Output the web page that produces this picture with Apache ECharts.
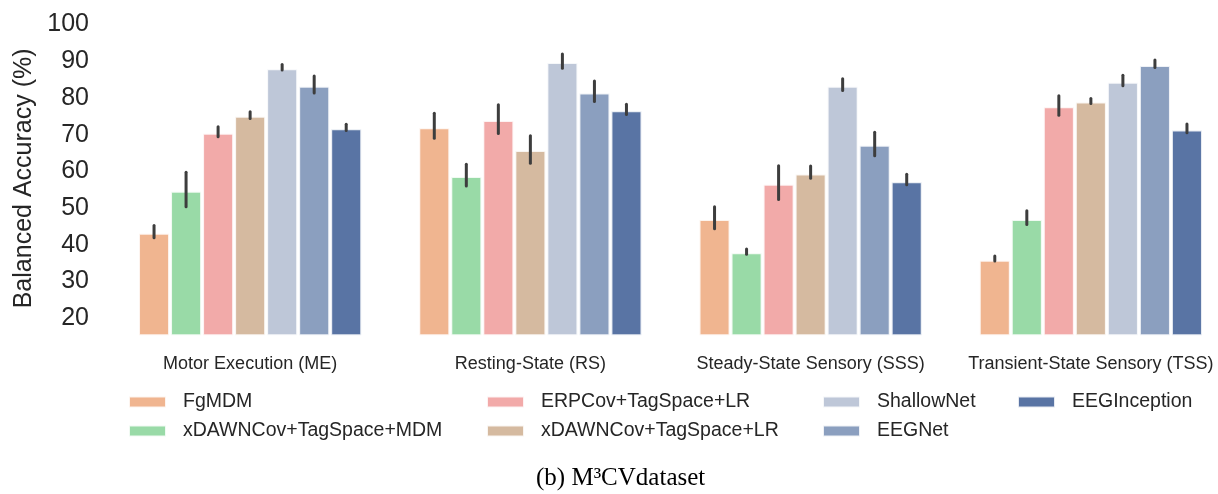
<!DOCTYPE html>
<html>
<head>
<meta charset="utf-8">
<script src="https://cdn.jsdelivr.net/npm/echarts@6/dist/echarts.min.js"></script>
<style>
  html, body { margin: 0; padding: 0; background: #ffffff; overflow: hidden; }
  #chart { width: 1240px; height: 494px; }
</style>
</head>
<body>
<div id="chart"></div>
<script>
const categories = ['Motor Execution (ME)', 'Resting-State (RS)', 'Steady-State Sensory (SSS)', 'Transient-State Sensory (TSS)'];
const methods = ['FgMDM', 'xDAWNCov+TagSpace+MDM', 'ERPCov+TagSpace+LR', 'xDAWNCov+TagSpace+LR', 'ShallowNet', 'EEGNet', 'EEGInception'];
const colors = ['#F0B590', '#99DAA7', '#F2AAA9', '#D5BAA0', '#BEC7D8', '#8B9FBF', '#5974A4'];
const yTicks = [20, 30, 40, 50, 60, 70, 80, 90, 100];

// mean balanced accuracy per method (ME, RS, SSS, TSS)
const fgmdmMean   = [42.4, 71.2, 46.2, 35.1];
const xdMdmMean   = [53.9, 57.9, 37.1, 46.2];
const erpLrMean   = [69.7, 73.2, 55.8, 76.9];
const xdLrMean    = [74.3, 65.0, 58.6, 78.2];
const shallowMean = [87.3, 89.0, 82.5, 83.6];
const eegnetMean  = [82.5, 80.7, 66.4, 88.2];
const inceptMean  = [70.9, 75.8, 56.5, 70.6];

// error bar lower ends
const fgmdmLo   = [41.1, 68.2, 43.5, 34.7];
const xdMdmLo   = [49.5, 55.2, 36.6, 44.7];
const erpLrLo   = [68.6, 69.5, 51.5, 74.5];
const xdLrLo    = [73.6, 61.4, 57.3, 77.7];
const shallowLo = [86.8, 87.3, 81.2, 82.5];
const eegnetLo  = [80.5, 78.2, 63.4, 87.5];
const inceptLo  = [70.3, 74.7, 55.5, 69.7];

// error bar upper ends
const fgmdmHi   = [44.4, 75.0, 49.5, 36.1];
const xdMdmHi   = [58.9, 61.1, 38.0, 48.4];
const erpLrHi   = [71.3, 77.3, 60.7, 79.8];
const xdLrHi    = [75.4, 68.9, 60.6, 79.0];
const shallowHi = [88.3, 91.2, 84.4, 85.4];
const eegnetHi  = [85.2, 83.8, 69.8, 89.5];
const inceptHi  = [72.0, 77.5, 58.4, 72.1];

const means = [fgmdmMean, xdMdmMean, erpLrMean, xdLrMean, shallowMean, eegnetMean, inceptMean];
const los = [fgmdmLo, xdMdmLo, erpLrLo, xdLrLo, shallowLo, eegnetLo, inceptLo];
const his = [fgmdmHi, xdMdmHi, erpLrHi, xdLrHi, shallowHi, eegnetHi, inceptHi];

const textColor = '#262626';
const sans = 'Liberation Sans, Arial, sans-serif';
const nSeries = methods.length;

const series = [];
methods.forEach((name, i) => {
  series.push({
    name: name,
    type: 'bar',
    data: means[i],
    barGap: '0%',
    barCategoryGap: '20%',
    itemStyle: { color: colors[i], borderColor: 'rgba(255,255,255,0.85)', borderWidth: 2 },
    emphasis: { disabled: true },
    z: 2
  });
});
methods.forEach((name, i) => {
  series.push({
    name: 'err_' + i,
    type: 'custom',
    z: 5,
    silent: true,
    data: categories.map((c, k) => [k, los[i][k], his[i][k]]),
    renderItem: function (params, api) {
      const k = api.value(0);
      const p1 = api.coord([k, api.value(1)]);
      const p2 = api.coord([k, api.value(2)]);
      const band = api.size([1, 0])[0];
      const bw = band * 0.8 / nSeries;
      const off = (i - (nSeries - 1) / 2) * bw;
      return {
        type: 'line',
        shape: { x1: p1[0] + off, y1: p1[1], x2: p2[0] + off, y2: p2[1] },
        style: { stroke: '#3d3d3d', lineWidth: 3, lineCap: 'round' }
      };
    }
  });
});

const legendCols = [
  { left: 128, items: [methods[0], methods[1]] },
  { left: 486, items: [methods[2], methods[3]] },
  { left: 822, items: [methods[4], methods[5]] },
  { left: 1017, items: [methods[6]] }
];

const chart = echarts.init(document.getElementById('chart'), null, { renderer: 'canvas' });
chart.setOption({
  backgroundColor: '#ffffff',
  animation: false,
  grid: { left: 110, top: 21.6, width: 1121, height: 313.6, containLabel: false },
  xAxis: {
    type: 'category',
    data: categories,
    axisLine: { show: false },
    axisTick: { show: false },
    splitLine: { show: false },
    axisLabel: { color: textColor, fontSize: 18, fontFamily: sans, margin: 20, interval: 0 }
  },
  yAxis: {
    type: 'value',
    min: 14.5,
    max: 100,
    name: 'Balanced Accuracy (%)',
    nameLocation: 'middle',
    nameGap: 73,
    nameTextStyle: { color: textColor, fontSize: 25, fontFamily: sans },
    axisLine: { show: false },
    axisTick: { show: false },
    splitLine: { show: false },
    axisLabel: {
      color: textColor, fontSize: 25, fontFamily: sans, margin: 21,
      customValues: yTicks,
      formatter: '{v|{value}}',
      rich: { v: { color: textColor, fontSize: 25, fontFamily: sans, padding: [6, 0, 0, 0] } }
    }
  },
  legend: legendCols.map(col => ({
    orient: 'vertical',
    left: col.left,
    top: 392,
    padding: 0,
    itemWidth: 37,
    itemHeight: 11,
    itemGap: 9,
    icon: 'rect',
    selectedMode: false,
    data: col.items,
    textStyle: { color: textColor, fontSize: 19.5, fontFamily: sans, padding: [0, 0, 0, 12] }
  })),
  graphic: [{
    type: 'text',
    left: 536,
    top: 466,
    style: {
      text: '(b) M³CVdataset',
      fill: '#000000',
      font: '25px "Liberation Serif", "Times New Roman", serif'
    }
  }],
  series: series
});
</script>
</body>
</html>
